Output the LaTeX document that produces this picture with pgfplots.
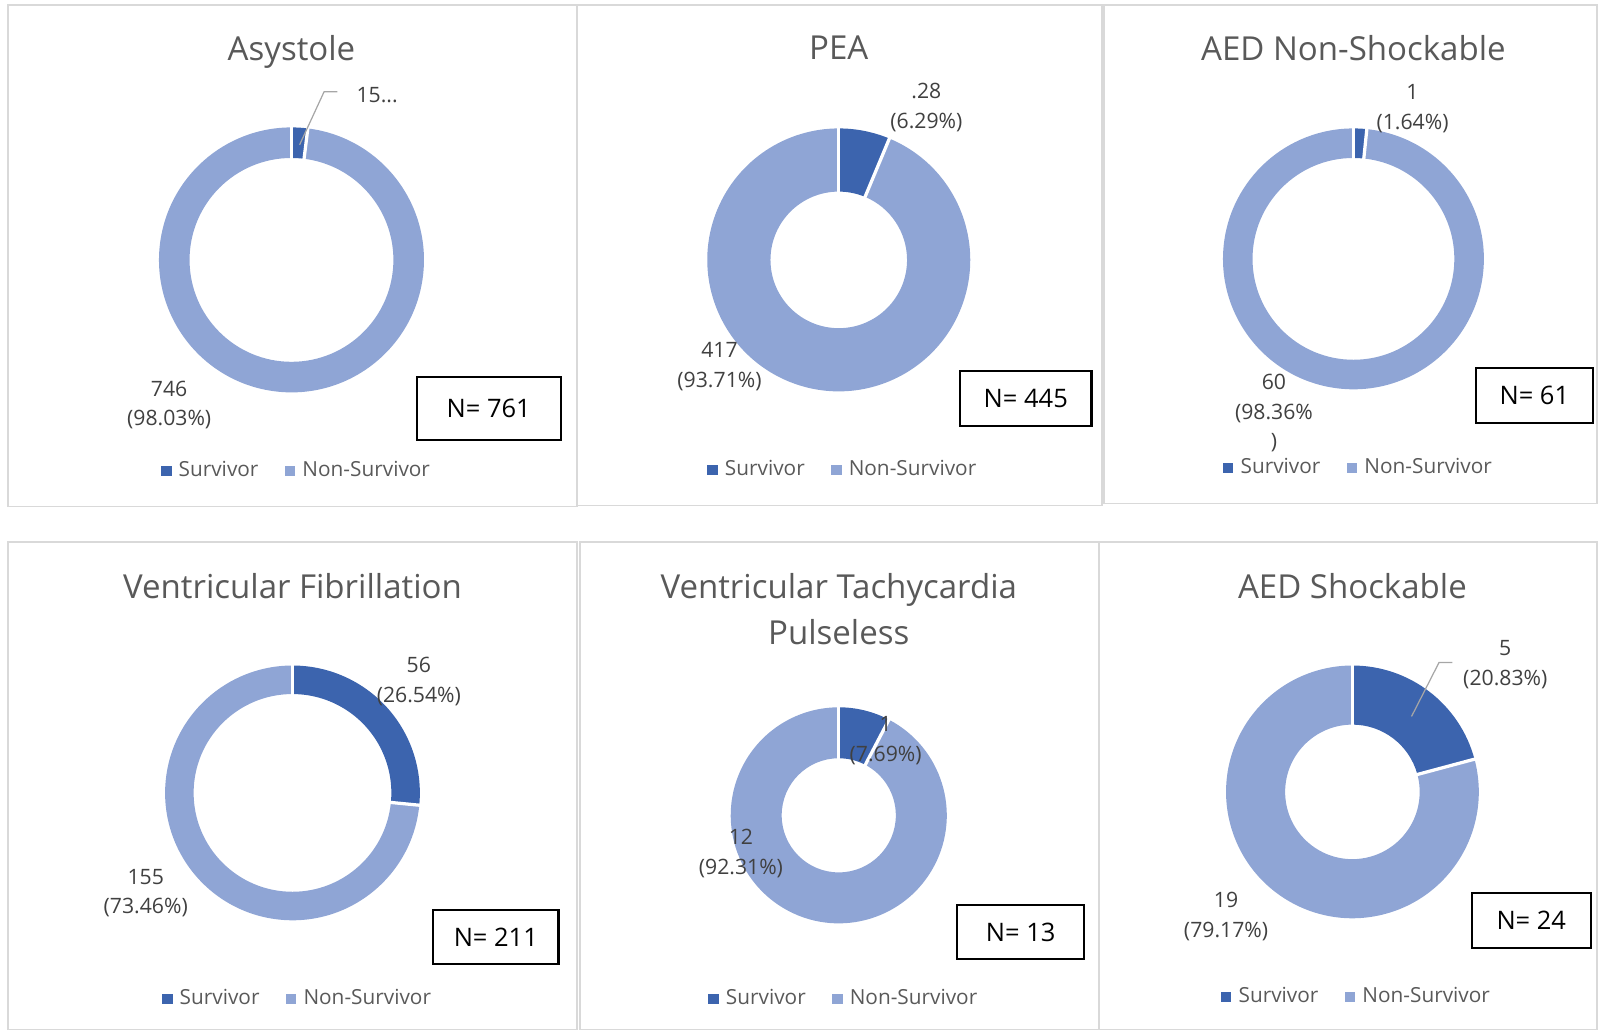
\documentclass[border=0pt]{standalone}
\usepackage{pgfplots}
\pgfplotsset{compat=1.18}
\usepackage{pgfplotstable}
\usepackage{fontspec}
\setmainfont{Open Sans}

\definecolor{surv}{HTML}{3C64AE}
\definecolor{nsurv}{HTML}{8FA5D5}
\definecolor{lbl}{HTML}{404040}
\definecolor{ttl}{HTML}{595959}
\definecolor{frame}{HTML}{D9D9D9}

% survivors / non-survivors per rhythm
\pgfplotstableread{
id s n
0 15 746
1 28 417
2 1 60
3 56 155
4 1 12
5 5 19
}\rhythms

% donut: row, cx, cy, outer r, inner r (picture units)
\newcommand\donut[5]{%
  \pgfplotstablegetelem{#1}{s}\of\rhythms\let\vs\pgfplotsretval
  \pgfplotstablegetelem{#1}{n}\of\rhythms\let\vn\pgfplotsretval
  \pgfmathsetmacro\frac{\vs/(\vs+\vn)}%
  \pgfmathsetmacro\ang{90-360*\frac}%
  \pgfmathsetmacro\ro{0.5*#4}%
  \pgfmathsetmacro\ri{0.5*#5}%
  \pgfmathsetmacro\rop{\ro+1}%
  \pgfmathsetmacro\rim{\ri-1}%
  \edef\next{%
    \noexpand\fill[surv] ([shift={(90:\ro pt)}]axis cs:#2,#3) arc[start angle=90,end angle=\ang,radius=\ro pt]
      -- ([shift={(\ang:\ri pt)}]axis cs:#2,#3) arc[start angle=\ang,end angle=90,radius=\ri pt] -- cycle;
    \noexpand\fill[nsurv] ([shift={(\ang:\ro pt)}]axis cs:#2,#3) arc[start angle=\ang,end angle=-270,radius=\ro pt]
      -- ([shift={(-270:\ri pt)}]axis cs:#2,#3) arc[start angle=-270,end angle=\ang,radius=\ri pt] -- cycle;
    \noexpand\draw[white,line width=1.6pt] ([shift={(90:\rim pt)}]axis cs:#2,#3) -- ([shift={(90:\rop pt)}]axis cs:#2,#3);
    \noexpand\draw[white,line width=1.6pt] ([shift={(\ang:\rim pt)}]axis cs:#2,#3) -- ([shift={(\ang:\rop pt)}]axis cs:#2,#3);
  }\next
}

\pgfplotsset{
  panel/.style={x=0.5pt,y=0.5pt,xmin=0,xmax=1568,ymin=0,ymax=1011,y dir=reverse,
    hide axis,clip=false,anchor=north west,at={(0,0)},
    legend columns=2,
    legend style={draw=none,fill=none,anchor=center,inner sep=0pt,yshift=-1pt,
      font=\fontsize{10.2}{12}\selectfont\color{ttl},
      /tikz/every even column/.append style={column sep=11pt}},
    legend image code/.code={\fill[##1] (0pt,-2.3pt) rectangle (4.6pt,2.3pt);\path (6.2pt,0pt);}},
}
\tikzset{
  lab/.style={align=center,font=\fontsize{10.4}{14.6}\selectfont,text=lbl,inner sep=0pt,yshift=-1.2pt},
  ttlx/.style={align=center,font=\fontsize{16.2}{22.5}\selectfont,text=ttl,inner sep=0pt},
  nbox/.style={font=\fontsize{12.5}{14}\selectfont,text=black,inner sep=0pt},
  lead/.style={draw=gray!70,line width=0.6pt},
}

\begin{document}
\begin{tikzpicture}
% Asystole
\begin{axis}[panel,legend style={at={(axis cs:292,460)}}]
\addlegendimage{surv}\addlegendentry{Survivor}
\addlegendimage{nsurv}\addlegendentry{Non-Survivor}
\path (axis cs:0,0) rectangle (axis cs:1568,1011);
\draw[frame,line width=0.8pt] (axis cs:8,5) rectangle (axis cs:566,497);
\donut{0}{286}{255}{130}{100}
\node[ttlx] at (axis cs:286,51) {Asystole};
\draw[lead] (axis cs:294,142) -- (axis cs:318,90) -- (axis cs:331,90);
\node[lab] at (axis cs:370,91) {15...};
\node[lab] at (axis cs:166,395) {746\\(98.03\%)};
\draw[line width=1pt] (axis cs:409,370) rectangle (axis cs:550,432);
\node[nbox] at (axis cs:479.5,401) {N= 761};
\end{axis}
% PEA
\begin{axis}[panel,legend style={at={(axis cs:828,459)}}]
\addlegendimage{surv}\addlegendentry{Survivor}
\addlegendimage{nsurv}\addlegendentry{Non-Survivor}
\draw[frame,line width=0.8pt] (axis cs:566,5) rectangle (axis cs:1081,496);
\donut{1}{823}{255}{129}{67}
\node[ttlx] at (axis cs:823,47) {PEA};
\node[lab] at (axis cs:909,103) {.28\\(6.29\%)};
\node[lab] at (axis cs:706,357) {417\\(93.71\%)};
\draw[line width=1pt] (axis cs:942,364) rectangle (axis cs:1071,418);
\node[nbox] at (axis cs:1006.5,391) {N= 445};
\end{axis}
% AED Non-Shockable
\begin{axis}[panel,legend style={at={(axis cs:1334,457)}}]
\addlegendimage{surv}\addlegendentry{Survivor}
\addlegendimage{nsurv}\addlegendentry{Non-Survivor}
\draw[frame,line width=0.8pt] (axis cs:1083,5) rectangle (axis cs:1567,494);
\donut{2}{1328}{254}{128}{99}
\node[ttlx] at (axis cs:1328,47) {AED Non-Shockable};
\node[lab] at (axis cs:1386,104) {1\\(1.64\%)};
\node[lab] at (axis cs:1250,403) {60\\(98.36\%\\)};
\draw[line width=1pt] (axis cs:1448,361) rectangle (axis cs:1563,415);
\node[nbox] at (axis cs:1505.5,388) {N= 61};
\end{axis}
% Ventricular Fibrillation
\begin{axis}[panel,legend style={at={(axis cs:293,978)}}]
\addlegendimage{surv}\addlegendentry{Survivor}
\addlegendimage{nsurv}\addlegendentry{Non-Survivor}
\draw[frame,line width=0.8pt] (axis cs:8,532) rectangle (axis cs:566,1010);
\donut{3}{287}{778}{125}{97}
\node[ttlx] at (axis cs:287,575) {Ventricular Fibrillation};
\node[lab] at (axis cs:411,666) {56\\(26.54\%)};
\node[lab] at (axis cs:143,874) {155\\(73.46\%)};
\draw[line width=1pt] (axis cs:425,893) rectangle (axis cs:548,946);
\node[nbox] at (axis cs:486.5,919.5) {N= 211};
\end{axis}
% Ventricular Tachycardia Pulseless
\begin{axis}[panel,legend style={at={(axis cs:829,978)}}]
\addlegendimage{surv}\addlegendentry{Survivor}
\addlegendimage{nsurv}\addlegendentry{Non-Survivor}
\draw[frame,line width=0.8pt] (axis cs:569,532) rectangle (axis cs:1078,1010);
\donut{4}{823}{800}{106}{56}
\node[ttlx] at (axis cs:823,597.5) {Ventricular Tachycardia\\Pulseless};
\node[lab] at (axis cs:869,724) {1\\(7.69\%)};
\node[lab] at (axis cs:727,835) {12\\(92.31\%)};
\draw[line width=1pt] (axis cs:939,888) rectangle (axis cs:1064,941);
\node[nbox] at (axis cs:1001.5,914.5) {N= 13};
\end{axis}
% AED Shockable
\begin{axis}[panel,legend style={at={(axis cs:1332,976)}}]
\addlegendimage{surv}\addlegendentry{Survivor}
\addlegendimage{nsurv}\addlegendentry{Non-Survivor}
\draw[frame,line width=0.8pt] (axis cs:1079,532) rectangle (axis cs:1567,1010);
\donut{5}{1327}{777}{124}{66}
\node[ttlx] at (axis cs:1327,575) {AED Shockable};
\draw[lead] (axis cs:1385,703) -- (axis cs:1412,650) -- (axis cs:1425,650);
\node[lab] at (axis cs:1477,650) {5\\(20.83\%)};
\node[lab] at (axis cs:1203,897) {19\\(79.17\%)};
\draw[line width=1pt] (axis cs:1444,876) rectangle (axis cs:1561,930);
\node[nbox] at (axis cs:1502.5,903) {N= 24};
\end{axis}
\end{tikzpicture}
\end{document}
